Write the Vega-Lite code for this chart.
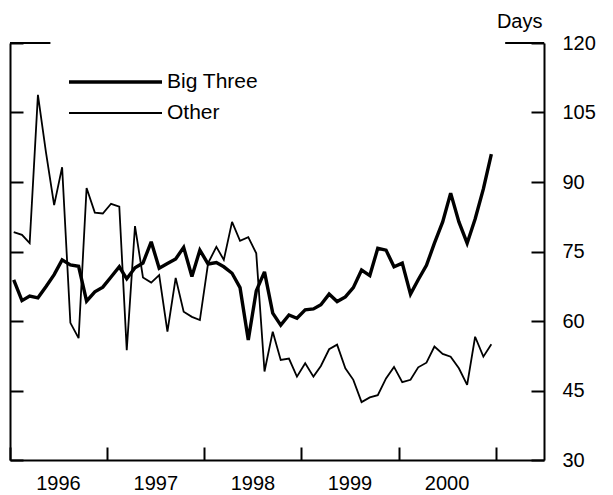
{
  "$schema": "https://vega.github.io/schema/vega-lite/v6.json",
  "width": 534,
  "height": 417,
  "autosize": {"type": "none"},
  "padding": {"left": 10, "top": 43, "right": 69, "bottom": 35},
  "background": "white",
  "config": {
    "view": {"stroke": null},
    "font": "Liberation Sans",
    "axis": {"domainColor": "black", "tickColor": "black", "labelColor": "black", "titleColor": "black", "labelFont": "Liberation Sans", "titleFont": "Liberation Sans", "grid": false},
    "legend": {"orient": "none", "legendX": 57, "legendY": 28, "symbolType": "stroke", "symbolSize": 8649, "clipHeight": 22, "rowPadding": 9, "labelFontSize": 21, "labelFont": "Liberation Sans", "labelOffset": 3, "padding": 0, "labelColor": "black", "symbolStrokeColor": "black"}
  },
  "data": {"values": [
    {"date": "1996-01-15", "series": "Big Three", "days": 68.9},
    {"date": "1996-02-15", "series": "Big Three", "days": 64.4},
    {"date": "1996-03-15", "series": "Big Three", "days": 65.4},
    {"date": "1996-04-15", "series": "Big Three", "days": 65.0},
    {"date": "1996-05-15", "series": "Big Three", "days": 67.4},
    {"date": "1996-06-15", "series": "Big Three", "days": 70.0},
    {"date": "1996-07-15", "series": "Big Three", "days": 73.2},
    {"date": "1996-08-15", "series": "Big Three", "days": 72.1},
    {"date": "1996-09-15", "series": "Big Three", "days": 71.8},
    {"date": "1996-10-15", "series": "Big Three", "days": 64.3},
    {"date": "1996-11-15", "series": "Big Three", "days": 66.3},
    {"date": "1996-12-15", "series": "Big Three", "days": 67.3},
    {"date": "1997-01-15", "series": "Big Three", "days": 69.5},
    {"date": "1997-02-15", "series": "Big Three", "days": 71.7},
    {"date": "1997-03-15", "series": "Big Three", "days": 69.1},
    {"date": "1997-04-15", "series": "Big Three", "days": 71.5},
    {"date": "1997-05-15", "series": "Big Three", "days": 72.5},
    {"date": "1997-06-15", "series": "Big Three", "days": 77.1},
    {"date": "1997-07-15", "series": "Big Three", "days": 71.4},
    {"date": "1997-08-15", "series": "Big Three", "days": 72.4},
    {"date": "1997-09-15", "series": "Big Three", "days": 73.4},
    {"date": "1997-10-15", "series": "Big Three", "days": 75.9},
    {"date": "1997-11-15", "series": "Big Three", "days": 69.6},
    {"date": "1997-12-15", "series": "Big Three", "days": 75.3},
    {"date": "1998-01-15", "series": "Big Three", "days": 72.3},
    {"date": "1998-02-15", "series": "Big Three", "days": 72.6},
    {"date": "1998-03-15", "series": "Big Three", "days": 71.7},
    {"date": "1998-04-15", "series": "Big Three", "days": 70.3},
    {"date": "1998-05-15", "series": "Big Three", "days": 67.2},
    {"date": "1998-06-15", "series": "Big Three", "days": 55.9},
    {"date": "1998-07-15", "series": "Big Three", "days": 66.5},
    {"date": "1998-08-15", "series": "Big Three", "days": 70.6},
    {"date": "1998-09-15", "series": "Big Three", "days": 61.7},
    {"date": "1998-10-15", "series": "Big Three", "days": 59.1},
    {"date": "1998-11-15", "series": "Big Three", "days": 61.3},
    {"date": "1998-12-15", "series": "Big Three", "days": 60.6},
    {"date": "1999-01-15", "series": "Big Three", "days": 62.4},
    {"date": "1999-02-15", "series": "Big Three", "days": 62.6},
    {"date": "1999-03-15", "series": "Big Three", "days": 63.5},
    {"date": "1999-04-15", "series": "Big Three", "days": 65.8},
    {"date": "1999-05-15", "series": "Big Three", "days": 64.2},
    {"date": "1999-06-15", "series": "Big Three", "days": 65.2},
    {"date": "1999-07-15", "series": "Big Three", "days": 67.2},
    {"date": "1999-08-15", "series": "Big Three", "days": 71.0},
    {"date": "1999-09-15", "series": "Big Three", "days": 69.8},
    {"date": "1999-10-15", "series": "Big Three", "days": 75.7},
    {"date": "1999-11-15", "series": "Big Three", "days": 75.3},
    {"date": "1999-12-15", "series": "Big Three", "days": 71.7},
    {"date": "2000-01-15", "series": "Big Three", "days": 72.5},
    {"date": "2000-02-15", "series": "Big Three", "days": 65.8},
    {"date": "2000-03-15", "series": "Big Three", "days": 68.9},
    {"date": "2000-04-15", "series": "Big Three", "days": 72.0},
    {"date": "2000-05-15", "series": "Big Three", "days": 76.8},
    {"date": "2000-06-15", "series": "Big Three", "days": 81.4},
    {"date": "2000-07-15", "series": "Big Three", "days": 87.6},
    {"date": "2000-08-15", "series": "Big Three", "days": 81.4},
    {"date": "2000-09-15", "series": "Big Three", "days": 76.8},
    {"date": "2000-10-15", "series": "Big Three", "days": 82.0},
    {"date": "2000-11-15", "series": "Big Three", "days": 88.5},
    {"date": "2000-12-15", "series": "Big Three", "days": 96.0},
    {"date": "1996-01-15", "series": "Other", "days": 79.2},
    {"date": "1996-02-15", "series": "Other", "days": 78.6},
    {"date": "1996-03-15", "series": "Other", "days": 76.8},
    {"date": "1996-04-15", "series": "Other", "days": 108.8},
    {"date": "1996-05-15", "series": "Other", "days": 96.5},
    {"date": "1996-06-15", "series": "Other", "days": 85.0},
    {"date": "1996-07-15", "series": "Other", "days": 93.2},
    {"date": "1996-08-15", "series": "Other", "days": 59.6},
    {"date": "1996-09-15", "series": "Other", "days": 56.3},
    {"date": "1996-10-15", "series": "Other", "days": 88.7},
    {"date": "1996-11-15", "series": "Other", "days": 83.4},
    {"date": "1996-12-15", "series": "Other", "days": 83.2},
    {"date": "1997-01-15", "series": "Other", "days": 85.3},
    {"date": "1997-02-15", "series": "Other", "days": 84.7},
    {"date": "1997-03-15", "series": "Other", "days": 53.7},
    {"date": "1997-04-15", "series": "Other", "days": 80.5},
    {"date": "1997-05-15", "series": "Other", "days": 69.4},
    {"date": "1997-06-15", "series": "Other", "days": 68.3},
    {"date": "1997-07-15", "series": "Other", "days": 69.9},
    {"date": "1997-08-15", "series": "Other", "days": 57.7},
    {"date": "1997-09-15", "series": "Other", "days": 69.3},
    {"date": "1997-10-15", "series": "Other", "days": 62.0},
    {"date": "1997-11-15", "series": "Other", "days": 60.9},
    {"date": "1997-12-15", "series": "Other", "days": 60.2},
    {"date": "1998-01-15", "series": "Other", "days": 72.5},
    {"date": "1998-02-15", "series": "Other", "days": 76.0},
    {"date": "1998-03-15", "series": "Other", "days": 73.2},
    {"date": "1998-04-15", "series": "Other", "days": 81.4},
    {"date": "1998-05-15", "series": "Other", "days": 77.3},
    {"date": "1998-06-15", "series": "Other", "days": 78.1},
    {"date": "1998-07-15", "series": "Other", "days": 74.6},
    {"date": "1998-08-15", "series": "Other", "days": 49.1},
    {"date": "1998-09-15", "series": "Other", "days": 57.7},
    {"date": "1998-10-15", "series": "Other", "days": 51.6},
    {"date": "1998-11-15", "series": "Other", "days": 51.9},
    {"date": "1998-12-15", "series": "Other", "days": 48.0},
    {"date": "1999-01-15", "series": "Other", "days": 50.9},
    {"date": "1999-02-15", "series": "Other", "days": 48.0},
    {"date": "1999-03-15", "series": "Other", "days": 50.3},
    {"date": "1999-04-15", "series": "Other", "days": 53.9},
    {"date": "1999-05-15", "series": "Other", "days": 54.9},
    {"date": "1999-06-15", "series": "Other", "days": 49.8},
    {"date": "1999-07-15", "series": "Other", "days": 47.3},
    {"date": "1999-08-15", "series": "Other", "days": 42.5},
    {"date": "1999-09-15", "series": "Other", "days": 43.5},
    {"date": "1999-10-15", "series": "Other", "days": 44.0},
    {"date": "1999-11-15", "series": "Other", "days": 47.6},
    {"date": "1999-12-15", "series": "Other", "days": 50.1},
    {"date": "2000-01-15", "series": "Other", "days": 46.8},
    {"date": "2000-02-15", "series": "Other", "days": 47.3},
    {"date": "2000-03-15", "series": "Other", "days": 50.0},
    {"date": "2000-04-15", "series": "Other", "days": 51.0},
    {"date": "2000-05-15", "series": "Other", "days": 54.5},
    {"date": "2000-06-15", "series": "Other", "days": 52.9},
    {"date": "2000-07-15", "series": "Other", "days": 52.3},
    {"date": "2000-08-15", "series": "Other", "days": 49.8},
    {"date": "2000-09-15", "series": "Other", "days": 46.2},
    {"date": "2000-10-15", "series": "Other", "days": 56.6},
    {"date": "2000-11-15", "series": "Other", "days": 52.3},
    {"date": "2000-12-15", "series": "Other", "days": 55.0}
  ]},
  "layer": [
    {
      "mark": {"type": "line", "strokeJoin": "miter", "strokeMiterLimit": 3},
      "encoding": {
        "x": {
          "field": "date", "type": "temporal",
          "scale": {"domain": [{"year": 1996, "month": 1, "date": 1}, {"year": 2001, "month": 7, "date": 1}]},
          "axis": {
            "orient": "bottom",
            "values": [{"year": 1996, "month": 1, "date": 1}, {"year": 1997, "month": 1, "date": 1}, {"year": 1998, "month": 1, "date": 1}, {"year": 1999, "month": 1, "date": 1}, {"year": 2000, "month": 1, "date": 1}, {"year": 2001, "month": 1, "date": 1}],
            "labelExpr": "year(datum.value) > 2000 ? '' : timeFormat(datum.value, '%Y')",
            "labelOffset": 48,
            "tickSize": -13, "tickWidth": 2, "domainWidth": 2,
            "labelPadding": 26, "labelFontSize": 20,
            "labelFlush": false, "labelOverlap": false, "labelBound": false,
            "title": null
          }
        },
        "y": {
          "field": "days", "type": "quantitative",
          "scale": {"domain": [30, 120], "nice": false, "zero": false},
          "axis": {
            "orient": "right",
            "values": [30, 45, 60, 75, 90, 105, 120],
            "tickSize": -13, "tickWidth": 2, "domainWidth": 2,
            "labelPadding": 31, "labelFontSize": 20,
            "labelFlush": false, "labelOverlap": false, "labelBound": false,
            "title": "Days", "titleAngle": 0, "titleX": -2, "titleY": -22,
            "titleAlign": "right", "titleBaseline": "middle",
            "titleFontSize": 20, "titleFontWeight": "normal"
          }
        },
        "color": {"field": "series", "type": "nominal", "scale": {"range": ["black", "black"]}, "legend": {"title": null}},
        "strokeWidth": {"field": "series", "type": "nominal", "scale": {"range": [3.4, 1.8]}, "legend": {"title": null}}
      }
    },
    {
      "data": {"values": [{}]},
      "mark": {"type": "rule", "color": "black", "strokeWidth": 2},
      "encoding": {
        "x": {"datum": {"year": 1996, "month": 1, "date": 1}, "type": "temporal"},
        "x2": {"datum": {"year": 1996, "month": 6, "date": 1}},
        "y": {
          "datum": 120, "type": "quantitative",
          "axis": {
            "orient": "left",
            "values": [30, 45, 60, 75, 90, 105, 120],
            "labels": false,
            "tickSize": -13, "tickWidth": 2, "domainWidth": 2,
            "title": null
          }
        }
      }
    },
    {
      "data": {"values": [{}]},
      "mark": {"type": "rule", "color": "black", "strokeWidth": 2},
      "encoding": {
        "x": {"datum": {"year": 2001, "month": 2, "date": 5}, "type": "temporal"},
        "x2": {"datum": {"year": 2001, "month": 7, "date": 1}},
        "y": {"datum": 120, "type": "quantitative", "axis": null}
      }
    }
  ],
  "resolve": {"axis": {"y": "independent"}}
}
